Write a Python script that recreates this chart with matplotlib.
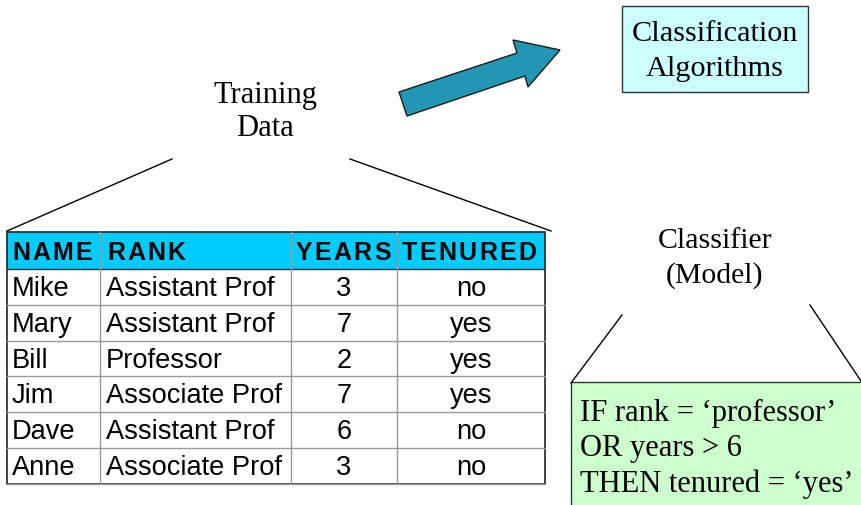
import matplotlib.pyplot as plt
from matplotlib.patches import Rectangle, Polygon

# table data
headers = ['NAME', 'RANK', 'YEARS', 'TENURED']
names = ['Mike', 'Mary', 'Bill', 'Jim', 'Dave', 'Anne']
ranks = ['Assistant Prof', 'Assistant Prof', 'Professor', 'Associate Prof',
         'Assistant Prof', 'Associate Prof']
years = [3, 7, 2, 7, 6, 3]
tenured = ['no', 'yes', 'yes', 'yes', 'no', 'no']

rule_lines = ['IF rank = \u2018professor\u2019', 'OR years > 6',
              'THEN tenured = \u2018yes\u2019']

fig = plt.figure(figsize=(8.61, 5.06), dpi=100)
ax = fig.add_axes([0, 0, 1, 1])
ax.set_xlim(0, 861)
ax.set_ylim(506, 0)
ax.axis('off')

serif = 'Liberation Serif'
sans = 'Liberation Sans'

# training data label + trapezoid lines
ax.text(265, 95, 'Training', family=serif, fontsize=22, ha='center', va='center')
ax.text(265, 128, 'Data', family=serif, fontsize=22, ha='center', va='center')
ax.plot([7, 172], [232, 160], color='black', lw=1)
ax.plot([350, 551], [160, 232], color='black', lw=1)

# table
col_x = [7, 100, 291, 397, 545]
top, head_h, row_h = 233, 37, 35.8
ax.add_patch(Rectangle((col_x[0], top), col_x[-1] - col_x[0], head_h,
                       facecolor='#00CCFF', edgecolor='none'))

def spaced_text(x, y, s, spacing=2.3, **kw):
    # draw letters one by one with extra tracking
    r = fig.canvas.get_renderer()
    inv = ax.transData.inverted()
    for ch in s:
        t = ax.text(x, y, ch, va='center', ha='left', **kw)
        bb = t.get_window_extent(renderer=r)
        x0 = inv.transform((bb.x0, bb.y0))[0]
        x1 = inv.transform((bb.x1, bb.y0))[0]
        x += (x1 - x0) + spacing

hy = top + head_h / 2 + 1
spaced_text(12, hy, headers[0], family=sans, fontsize=18, weight='bold', spacing=2.2)
spaced_text(107, hy, headers[1], family=sans, fontsize=18, weight='bold', spacing=2.2)
spaced_text(296, hy, headers[2], family=sans, fontsize=18, weight='bold', spacing=2.2)
spaced_text(402, hy, headers[3], family=sans, fontsize=18, weight='bold', spacing=2.3)

bottom = top + head_h + row_h * len(names)
for i in range(len(names)):
    y = top + head_h + row_h * (i + 0.5) + 1
    ax.text(12, y, names[i], family=sans, fontsize=19.6, va='center')
    ax.text(106, y, ranks[i], family=sans, fontsize=19.6, va='center')
    ax.text(344, y, str(years[i]), family=sans, fontsize=19.6, va='center', ha='center')
    ax.text(471, y, tenured[i], family=sans, fontsize=19.6, va='center', ha='center')

grid_c = '#999999'
for i in range(1, len(names) + 1):
    y = top + head_h + row_h * i
    ax.plot([col_x[0], col_x[-1]], [y, y], color=grid_c, lw=1)
ax.plot([col_x[0], col_x[-1]], [top + head_h, top + head_h], color='#333333', lw=1)
for x in col_x[1:-1]:
    ax.plot([x, x], [top, bottom], color=grid_c, lw=1)
ax.add_patch(Rectangle((col_x[0], top), col_x[-1] - col_x[0], bottom - top,
                       facecolor='none', edgecolor='#222222', lw=1.2))

# arrow
arrow_pts = [(399, 93), (517, 54), (513, 41), (560, 51), (528, 88), (525, 77), (407, 117)]
ax.add_patch(Polygon(arrow_pts, closed=True, facecolor='#2396B4', edgecolor='#1a1a1a', lw=1))

# classification algorithms box
ax.add_patch(Rectangle((622, 7), 186, 86, facecolor='#CCFFFF', edgecolor='#333333', lw=1))
ax.text(715, 34, 'Classification', family=serif, fontsize=21.8, ha='center', va='center')
ax.text(715, 69, 'Algorithms', family=serif, fontsize=21.8, ha='center', va='center')

# classifier label + lines
ax.text(715, 241, 'Classifier', family=serif, fontsize=21.5, ha='center', va='center')
ax.text(715, 276, '(Model)', family=serif, fontsize=21.5, ha='center', va='center')
ax.plot([622, 571], [316, 384], color='black', lw=1)
ax.plot([810, 861], [306, 382], color='black', lw=1)

# rule box
ax.add_patch(Rectangle((571, 383), 300, 140, facecolor='#CCFFCC', edgecolor='#333333', lw=1))
for i, line in enumerate(rule_lines):
    ax.text(580, 413 + 35.5 * i, line, family=serif, fontsize=22, va='center')

fig.savefig('out.png', dpi=100)
